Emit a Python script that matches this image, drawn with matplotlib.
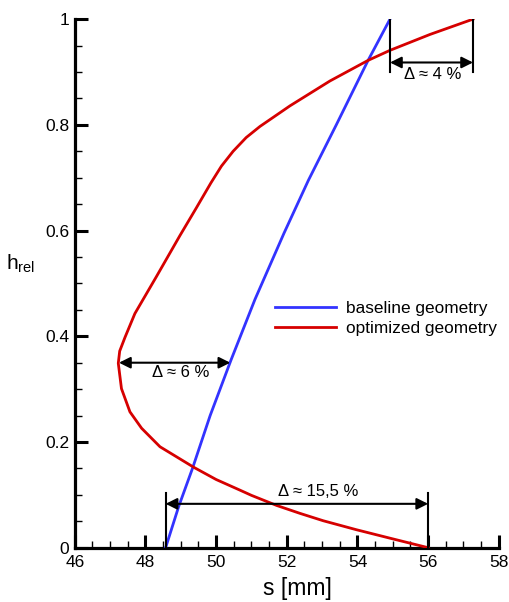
import matplotlib
matplotlib.use("Agg")
import matplotlib.pyplot as plt
from matplotlib.ticker import MultipleLocator, FormatStrFormatter

plt.rcParams["font.family"] = ["Liberation Sans", "DejaVu Sans"]
plt.rcParams["mathtext.fontset"] = "custom"
plt.rcParams["mathtext.rm"] = "Liberation Sans"

# baseline geometry: s [mm] vs relative height
base_s = [48.57, 48.94, 49.33, 49.83, 50.42, 51.10, 51.92, 52.61, 53.40, 54.30, 54.92]
base_h = [0.000, 0.078, 0.150, 0.250, 0.355, 0.470, 0.595, 0.695, 0.800, 0.922, 1.000]

# optimized geometry
opt_s = [56.00, 54.92, 53.97, 53.03, 52.37, 51.71, 51.00, 50.67, 50.00, 49.37, 48.41, 47.89,
         47.56, 47.32, 47.23, 47.27, 47.42, 47.70, 48.31, 48.97, 49.44, 49.85, 50.15, 50.48,
         50.85, 51.24, 52.09, 53.22, 54.30, 54.92, 56.05, 57.27]
opt_h = [0.000, 0.018, 0.034, 0.051, 0.065, 0.080, 0.099, 0.109, 0.129, 0.152, 0.191, 0.226,
         0.257, 0.301, 0.349, 0.372, 0.398, 0.443, 0.513, 0.590, 0.643, 0.690, 0.722, 0.750,
         0.776, 0.797, 0.836, 0.883, 0.922, 0.941, 0.971, 1.000]

# dimension arrows: (s_left, s_right, h_arrow, h_tick_from, h_tick_to, label, s_label, h_label)
dim_bottom = (48.57, 56.00, 0.083, 0.0, 0.103, "Δ ≈ 15,5 %", 52.9, 0.106)
dim_middle = (47.25, 50.40, 0.350, None, None, "Δ ≈ 6 %", 49.0, 0.331)
dim_top = (54.92, 57.27, 0.918, 0.90, 1.0, "Δ ≈ 4 %", 56.14, 0.895)

fig = plt.figure(figsize=(5.09, 6.02), dpi=100)
ax = fig.add_axes([0.147, 0.0902, 0.833, 0.878])

ax.plot(base_s, base_h, color="#3333ff", lw=2.0, label="baseline geometry", zorder=3)
ax.plot(opt_s, opt_h, color="#d60000", lw=2.0, label="optimized geometry", zorder=3)

for s0, s1, ha, t0, t1, txt, sx, sy in (dim_bottom, dim_middle, dim_top):
    if t0 is not None:
        ax.plot([s0, s0], [t0, t1], color="black", lw=1.5, zorder=4)
        ax.plot([s1, s1], [t0, t1], color="black", lw=1.5, zorder=4)
    ax.annotate("", xy=(s1, ha), xytext=(s0, ha),
                arrowprops=dict(arrowstyle="<|-|>", color="black", lw=1.5,
                                mutation_scale=17, shrinkA=0, shrinkB=0), zorder=4)
    ax.text(sx, sy, txt, ha="center", va="center", fontsize=12)

ax.set_xlim(46, 58)
ax.set_ylim(0, 1)

ax.spines["top"].set_visible(False)
ax.spines["right"].set_visible(False)
ax.spines["left"].set_linewidth(2.3)
ax.spines["bottom"].set_linewidth(2.3)

ax.xaxis.set_major_locator(MultipleLocator(2))
ax.xaxis.set_minor_locator(MultipleLocator(0.5))
ax.yaxis.set_major_locator(MultipleLocator(0.2))
ax.yaxis.set_minor_locator(MultipleLocator(0.05))
ax.yaxis.set_major_formatter(FormatStrFormatter("%g"))
ax.tick_params(which="major", direction="in", length=9.5, width=2.2, labelsize=12.5)
ax.tick_params(axis="x", which="major", pad=5)
ax.tick_params(axis="y", which="major", pad=4)
ax.tick_params(which="minor", direction="in", length=5, width=1.0)
ax.tick_params(top=False, right=False, which="both")

ax.set_xlabel("s [mm]", fontsize=16.5, labelpad=5, x=0.524)
fig.text(0.012, 0.562, r"h$_{\rm rel}$", fontsize=15, va="center", ha="left")

ax.legend(loc="center left", bbox_to_anchor=(0.472, 0.434), frameon=False,
          fontsize=12.4, handlelength=3.55, handletextpad=0.6, labelspacing=0.3,
          borderpad=0, borderaxespad=0)

fig.savefig("out.png", dpi=100)
